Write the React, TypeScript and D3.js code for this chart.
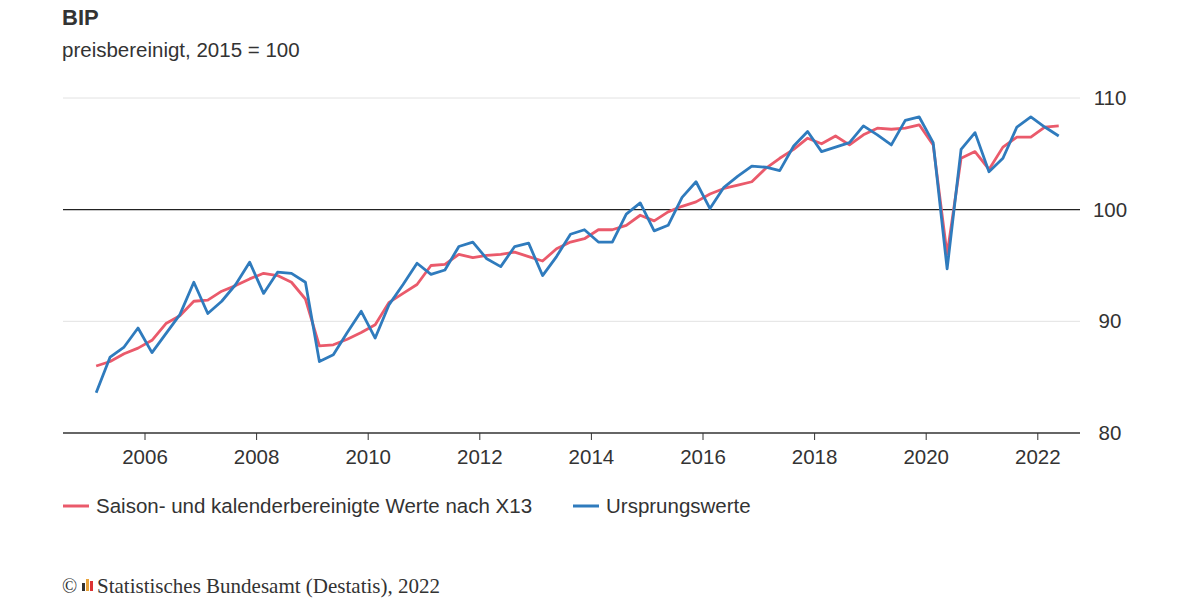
import React from "react";
import * as d3 from "d3";

const startYear = 2005;
const original = [83.6,86.8,87.7,89.4, 87.2,88.9,90.6,93.5, 90.7,91.8,93.3,95.3, 92.5,94.4,94.3,93.5, 86.4,87.0,89.0,90.9, 88.5,91.5,93.3,95.2, 94.2,94.6,96.7,97.1, 95.6,94.9,96.7,97.0, 94.1,95.8,97.8,98.2, 97.1,97.1,99.6,100.6, 98.1,98.6,101.1,102.5, 100.1,102.0,103.0,103.9, 103.8,103.5,105.7,107.0, 105.2,105.6,106.0,107.5, 106.7,105.8,108.0,108.3, 106.0,94.7,105.4,106.9, 103.4,104.6,107.4,108.3, 107.4,106.6];
const adjusted = [86.0,86.4,87.1,87.6, 88.3,89.8,90.5,91.8, 91.9,92.7,93.2,93.8, 94.3,94.1,93.5,92.0, 87.8,87.9,88.4,89.0, 89.7,91.7,92.5,93.3, 95.0,95.1,96.0,95.7, 95.9,96.0,96.2,95.8, 95.4,96.5,97.1,97.4, 98.2,98.2,98.6,99.5, 99.0,99.8,100.3,100.7, 101.4,101.9,102.2,102.5, 103.7,104.6,105.4,106.4, 105.9,106.6,105.8,106.7, 107.3,107.2,107.3,107.6, 105.8,96.0,104.6,105.2, 103.6,105.6,106.5,106.5, 107.4,107.5];
const xTicks = [2006,2008,2010,2012,2014,2016,2018,2020,2022];
const yTicks = [80,90,100,110];

export default function App() {
  const x = d3.scaleLinear().domain([2005, 2023]).range([89.2, 1093.6]);
  const y = d3.scaleLinear().domain([80, 110]).range([433, 98]);
  const t = (i: number) => startYear + (i + 0.5) / 4;
  const line = d3.line<number>().x((_, i) => x(t(i))).y(d => y(d));
  const font = "'Liberation Sans', Arial, sans-serif";
  return (
    <svg width={1200} height={600} style={{ position: "absolute", left: 0, top: 0, background: "#fff" }} fontFamily={font}>
      <text x={62} y={25} fontSize={22} fontWeight="bold" fill="#333">BIP</text>
      <text x={62} y={57} fontSize={20.5} fill="#333">preisbereinigt, 2015 = 100</text>
      {yTicks.map(v => (
        <g key={v}>
          {v !== 80 && <line x1={63} x2={1080} y1={y(v)} y2={y(v)} stroke={v === 100 ? "#222" : "#e2e2e2"} strokeWidth={v === 100 ? 1.3 : 1} />}
          <text x={1110} y={y(v) + 7} fontSize={20.5} fill="#333" textAnchor="middle">{v}</text>
        </g>
      ))}
      <line x1={63} x2={1080} y1={433} y2={433} stroke="#333" strokeWidth={1.3} />
      {xTicks.map(v => (
        <g key={v}>
          <line x1={x(v)} x2={x(v)} y1={433} y2={440} stroke="#333" />
          <text x={x(v)} y={464} fontSize={20.5} fill="#333" textAnchor="middle">{v}</text>
        </g>
      ))}
      <path d={line(adjusted) || ""} fill="none" stroke="#ea5a6b" strokeWidth={2.8} strokeLinejoin="round" />
      <path d={line(original) || ""} fill="none" stroke="#2f7bbd" strokeWidth={2.8} strokeLinejoin="round" />
      <line x1={63} x2={89} y1={506} y2={506} stroke="#ea5a6b" strokeWidth={3} />
      <text x={96} y={513} fontSize={20.5} fill="#333">Saison- und kalenderbereinigte Werte nach X13</text>
      <line x1={573} x2={599} y1={506} y2={506} stroke="#2f7bbd" strokeWidth={3} />
      <text x={606} y={513} fontSize={20.5} fill="#333">Ursprungswerte</text>
      <text x={62} y={593} fontSize={20} fill="#333" fontFamily="'Liberation Serif', serif">©</text>
      <rect x={82} y={583} width={3} height={8} fill="#333" />
      <rect x={86} y={579} width={3} height={12} fill="#e8a33b" />
      <rect x={90} y={581} width={3} height={10} fill="#d33" />
      <text x={97} y={593} fontSize={21} fill="#333" fontFamily="'Liberation Serif', serif">Statistisches Bundesamt (Destatis), 2022</text>
    </svg>
  );
}
